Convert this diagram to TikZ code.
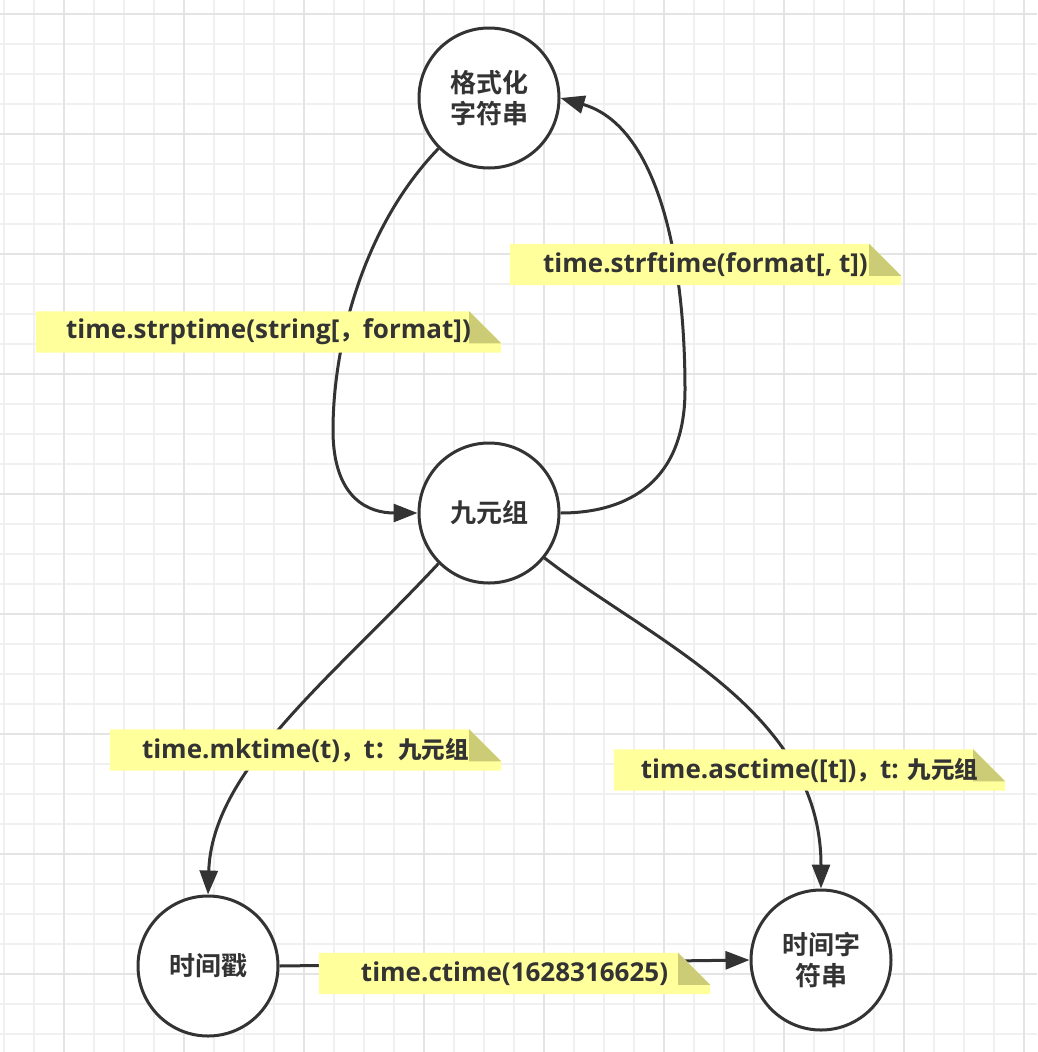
\documentclass[tikz,border=0pt]{standalone}
\usepackage{fontspec}
\setmainfont{Open Sans}
\newfontfamily\cjk{Noto Sans CJK SC Bold}
\usetikzlibrary{arrows.meta}
\pgfdeclarelayer{grid}
\pgfdeclarelayer{edges}
\pgfdeclarelayer{notefill}
\pgfsetlayers{grid,edges,notefill,main}
\definecolor{ink}{HTML}{333333}
\definecolor{noteyel}{HTML}{FFFF9C}
\definecolor{notefold}{HTML}{CCCC77}
\definecolor{gridminor}{HTML}{F0F0F0}
\definecolor{gridmajor}{HTML}{E4E4E4}
\newcommand\notebg[1]{%
  \begin{pgfonlayer}{notefill}
    \fill[noteyel] (#1.south west) -- (#1.north west) -- ([xshift=-32pt]#1.north east)
      -- ([yshift=-32pt]#1.north east) -- (#1.south east) -- cycle;
    \fill[notefold] ([xshift=-32pt]#1.north east) -- ([xshift=-32pt,yshift=-32pt]#1.north east)
      -- ([yshift=-32pt]#1.north east) -- cycle;
  \end{pgfonlayer}}
\tikzset{
  state/.style={circle, draw=ink, line width=3pt, fill=white, minimum size=140pt,
    inner sep=0pt, align=center, text=ink, font=\fontsize{26}{31}\selectfont\cjk},
  notebox/.style={rectangle, minimum height=41pt, inner sep=0pt, text=ink,
    font=\fontsize{26}{28}\selectfont\bfseries},
  conn/.style={draw=ink, line width=3pt},
  arr/.style={conn, -{Triangle[length=24pt,width=18pt]}},
}
\newcommand\cj[1]{{\fontsize{23.5}{26}\selectfont\cjk #1}}
\begin{document}
\begin{tikzpicture}[x=1pt,y=-1pt]
\useasboundingbox (0,0) rectangle (1037,1052);
\begin{pgfonlayer}{grid}
  \fill[white] (0,0) rectangle (1037,1052);
  \foreach \i in {0,...,34} {
    \draw[gridminor, line width=1.5pt] (4+30*\i,0) -- (4+30*\i,1052);
    \draw[gridminor, line width=1.5pt] (0,14+30*\i) -- (1037,14+30*\i);
  }
  \foreach \i in {0,...,8} {
    \draw[gridmajor, line width=2pt] (64+120*\i,0) -- (64+120*\i,1052);
    \draw[gridmajor, line width=2pt] (0,14+120*\i) -- (1037,14+120*\i);
  }
\end{pgfonlayer}

\node[state] (fmt) at (489,98) {格式化\\字符串};
\node[state] (tup) at (489,513) {九元组};
\node[state] (ts) at (208,966) {时间戳};
\node[state] (tstr) at (821,960) {时间字\\符串};

\node[notebox, minimum width=391pt] (n1) at (705.5,264.5) {time.strftime(format[, t])};
\node[notebox, minimum width=465pt] (n2) at (268.5,332) {time.strptime(string[\cj{，}format])};
\node[notebox, minimum width=391pt] (n3) at (305.5,750) {time.mktime(t)\cj{，}t\cj{：九元组}};
\node[notebox, minimum width=391pt] (n4) at (809.5,770) {time.asctime([t])\cj{，}t: \cj{九元组}};
\node[notebox, minimum width=391pt] (n5) at (514.5,973.5) {time.ctime(1628316625)};
\notebg{n1}\notebg{n2}\notebg{n3}\notebg{n4}\notebg{n5}

\begin{pgfonlayer}{edges}
  \draw[arr] (fmt.225) .. controls (360,230) and (333,350) .. (333,430)
     .. controls (333,500) and (370,513) .. (tup.west);
  \draw[arr] (tup.east) .. controls (630,513) and (685,480) .. (685,390)
     .. controls (685,250) and (655,125) .. (fmt.east);
  \draw[arr] (tup.225) .. controls (330,680) and (212,770) .. (ts.north);
  \draw[arr] (tup.-39) .. controls (650,640) and (821,710) .. (tstr.north);
  \draw[arr] (ts.east) -- (tstr.west);
\end{pgfonlayer}
\end{tikzpicture}
\end{document}
